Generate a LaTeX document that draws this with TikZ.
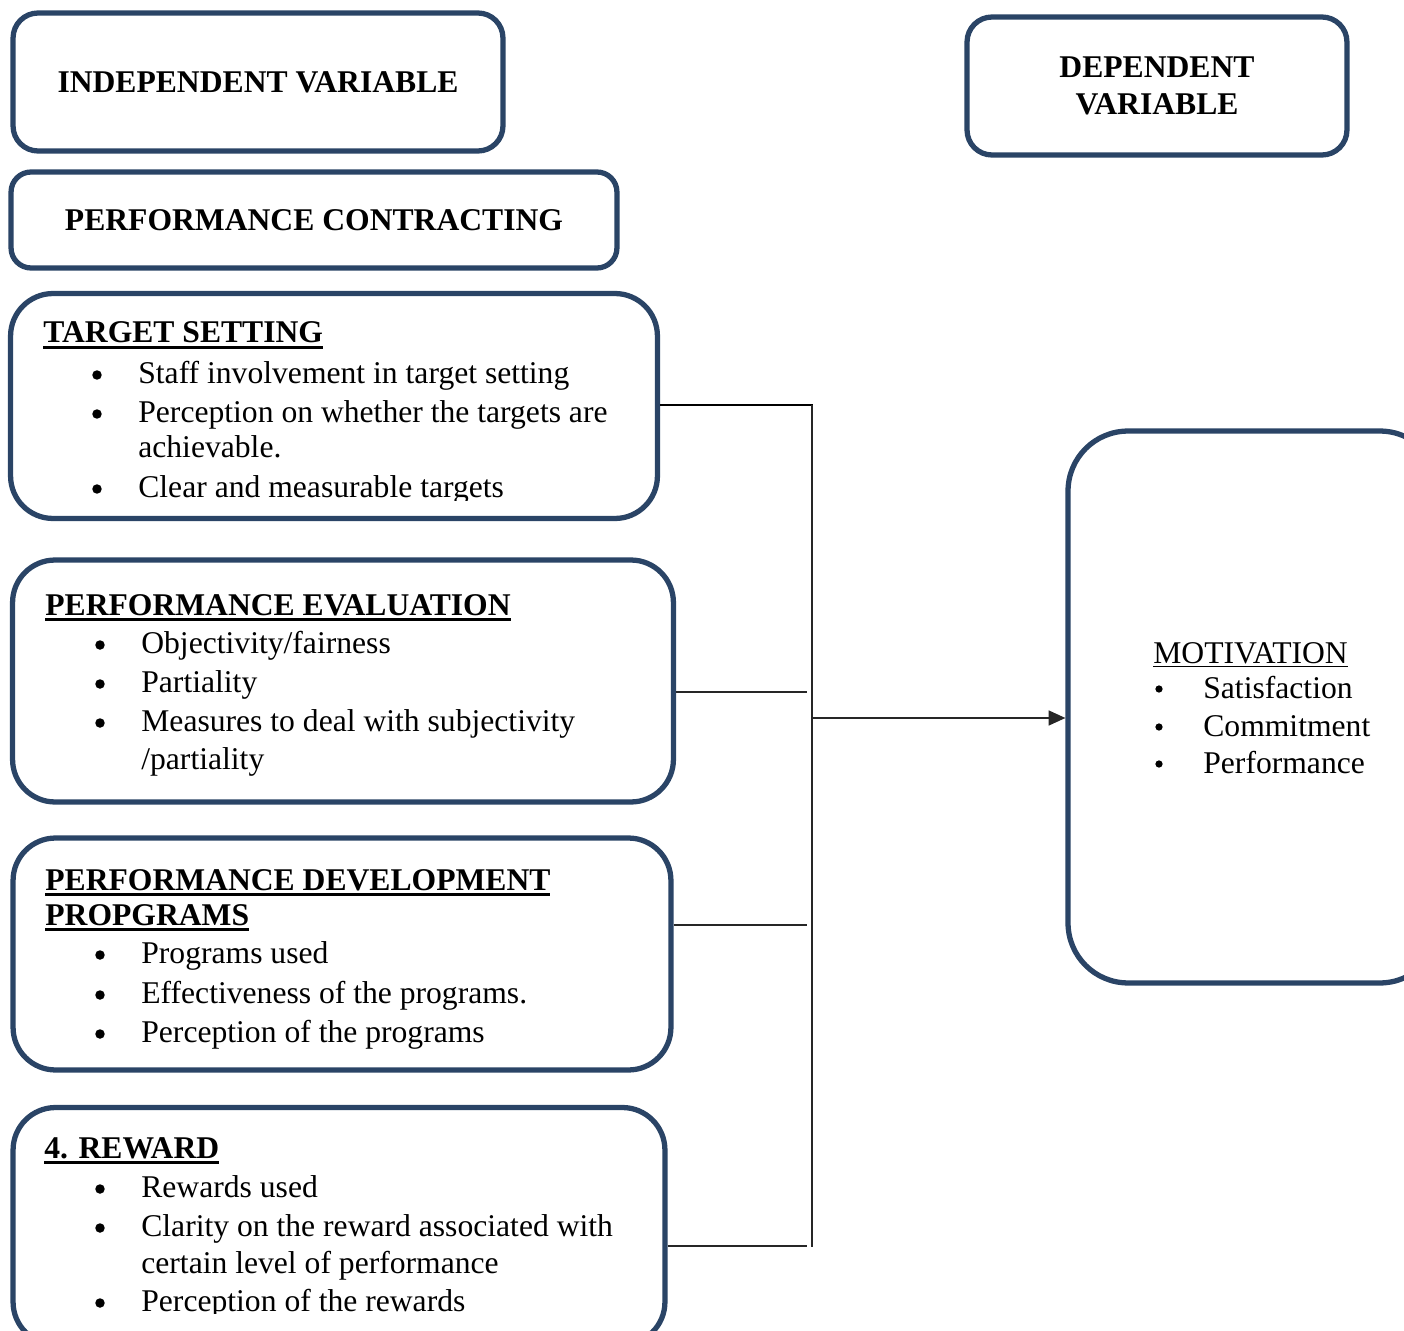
\documentclass[tikz,border=0pt]{standalone}
\usepackage{fontspec}
\setmainfont{Liberation Serif}
\usetikzlibrary{arrows.meta}
\definecolor{bx}{RGB}{42,68,102}
% thick underline for bold headings, thin one for the motivation box
\newcommand{\hul}[1]{\setbox0\hbox{#1}\rlap{\vrule height -1.6pt depth 3.6pt width \wd0}\box0}
\newcommand{\tul}[1]{\setbox0\hbox{#1}\rlap{\vrule height -1.7pt depth 2.5pt width \wd0}\box0}

\begin{document}
\begin{tikzpicture}[x=0.02cm,y=-0.02cm,font=\fontsize{18pt}{21.5pt}\selectfont,
  box/.style={draw=bx,line width=3pt,rounded corners=#1,inner sep=0},
  box/.default=0.85cm,
  txt/.style={anchor=base west,inner sep=0},
  hd/.style={txt,font=\fontsize{18pt}{21.5pt}\selectfont\bfseries},
  dot/.style={circle,fill=black,inner sep=0,minimum size=0.19cm},
  sdot/.style={circle,fill=black,inner sep=0,minimum size=0.145cm},
  lnk/.style={line width=0.8pt,black!85}]

  \useasboundingbox (0,0) rectangle (1404,1331);
  \clip (0,0) rectangle (1404,1331);

  % ---- titles ----
  \node[box=0.5cm,minimum width=9.8cm,minimum height=2.76cm,font=\fontsize{18pt}{21.5pt}\selectfont\bfseries]
    (iv) at (258,82) {INDEPENDENT VARIABLE};
  \node[box=0.4cm,minimum width=12.12cm,minimum height=1.92cm,font=\fontsize{18pt}{21.5pt}\selectfont\bfseries]
    (pc) at (314,220) {PERFORMANCE CONTRACTING};
  \node[box=0.5cm,minimum width=7.6cm,minimum height=2.76cm,align=center,font=\fontsize{18pt}{21.5pt}\selectfont\bfseries]
    (dv) at (1157,86) {DEPENDENT\\VARIABLE};

  % ---- target setting ----
  \node[box,minimum width=12.94cm,minimum height=4.5cm] (ts) at (334,406) {};
  \begin{scope}
    \clip (20,300) rectangle (650,500);
    \node[hd] (ts-h) at (43,343) {\hul{TARGET SETTING}};
    \foreach \y/\t [count=\i] in {383/Staff involvement in target setting,422/Perception on whether the targets are,
      458/achievable.,497/Clear and measurable targets}
      \node[txt] (ts-\i) at (138,\y) {\t};
    \foreach \y [count=\i] in {383,422,497}
      \node[dot] (ts-b\i) at (97,\y-8) {};
  \end{scope}

  % ---- performance evaluation ----
  \node[box,minimum width=13.22cm,minimum height=4.84cm] (pe) at (343,681) {};
  \node[hd] (pe-h) at (45,615) {\hul{PERFORMANCE EVALUATION}};
  \foreach \y/\t [count=\i] in {653/{Objectivity/fairness},692/Partiality,
    731/Measures to deal with subjectivity,769/{/partiality}}
    \node[txt] (pe-\i) at (141,\y) {\t};
  \foreach \y [count=\i] in {653,692,731}
    \node[dot] (pe-b\i) at (100,\y-8) {};

  % ---- development programs ----
  \node[box,minimum width=13.16cm,minimum height=4.64cm] (pdp) at (342,954) {};
  \node[hd] (pdp-h1) at (45,890) {\hul{PERFORMANCE DEVELOPMENT}};
  \node[hd] (pdp-h2) at (45,925) {\hul{PROPGRAMS}};
  \foreach \y/\t [count=\i] in {963/Programs used,1003/Effectiveness of the programs.,1042/Perception of the programs}
    \node[txt] (pdp-\i) at (141,\y) {\t};
  \foreach \y [count=\i] in {963,1003,1042}
    \node[dot] (pdp-b\i) at (100,\y-8) {};

  % ---- reward ----
  \node[box,minimum width=13.04cm,minimum height=4.74cm] (rw) at (339,1226) {};
  \begin{scope}
    \clip (20,1115) rectangle (650,1313);
    \node[hd] (rw-h) at (44,1158) {\hul{4. REWARD}};
    \foreach \y/\t [count=\i] in {1197/Rewards used,1236/Clarity on the reward associated with,
      1273/certain level of performance,1311/Perception of the rewards}
      \node[txt] (rw-\i) at (141,\y) {\t};
    \foreach \y [count=\i] in {1197,1236,1311}
      \node[dot] (rw-b\i) at (100,\y-8) {};
  \end{scope}

  % ---- motivation ----
  \node[box=1.2cm,minimum width=7.44cm,minimum height=11.04cm] (mot) at (1254,707) {};
  \node[txt] (mot-h) at (1153,663) {\tul{MOTIVATION}};
  \foreach \y/\t [count=\i] in {698/Satisfaction,736/Commitment,773/Performance}{
    \node[txt] (mot-\i) at (1203,\y) {\t};
    \node[sdot] (mot-b\i) at (1159,\y-9) {};}

  % ---- links ----
  \coordinate (bus-t) at (812,405);
  \coordinate (bus-b) at (812,1247);
  \coordinate (bus-m) at (812,718);
  \draw[lnk,line width=1.2pt,black] (ts.east |- bus-t) -- ([xshift=0.4pt]bus-t);
  \draw[lnk] (bus-t) -- (bus-b);
  \foreach \n/\y in {pe/692,pdp/925,rw/1246}{
    \coordinate (j-\n) at (807,\y);
    \draw[lnk] (\n.east |- j-\n) -- (j-\n);}
  \draw[lnk,-{Triangle[length=9.5pt,width=8.5pt]}] (bus-m) -- (bus-m -| mot.west);

\end{tikzpicture}
\end{document}
